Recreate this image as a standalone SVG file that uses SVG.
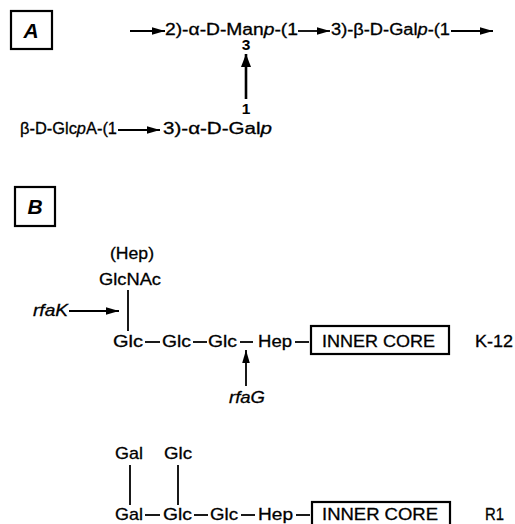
<svg xmlns="http://www.w3.org/2000/svg" width="515" height="524" viewBox="0 0 515 524">
<defs>
<marker id="ah" markerUnits="userSpaceOnUse" markerWidth="14" markerHeight="10" refX="13" refY="5" orient="auto">
<path d="M0,1.2 L13,5 L0,8.8 Z" fill="#000"/>
</marker>
<marker id="ahb" markerUnits="userSpaceOnUse" markerWidth="14" markerHeight="12" refX="13" refY="6" orient="auto">
<path d="M0,1 L13,6 L0,11 Z" fill="#000"/>
</marker>
</defs>
<style>
text{font-family:"Liberation Sans",Arial,sans-serif;font-size:16px;fill:#000;stroke:#000;stroke-width:0.3}
.lbl{font-size:21px;font-weight:bold;font-style:italic;stroke:none}
.b{font-size:17px}
.n{font-size:15.5px;font-weight:bold;stroke:none}
.i{font-style:italic}
.box{fill:none;stroke:#000;stroke-width:2.2}
.ln{stroke:#000;stroke-width:1.8;fill:none}
.arr{stroke:#000;stroke-width:1.8;fill:none;marker-end:url(#ah)}
.arrb{stroke:#000;stroke-width:2.6;fill:none;marker-end:url(#ahb)}
.m{text-anchor:middle}
</style>
<rect width="515" height="524" fill="#fff"/>

<g id="panelA">
<rect class="box" x="11" y="11" width="41" height="38"/>
<text class="lbl m" x="31" y="38">A</text>
</g>
<g id="a-man"><text x="165" y="35" textLength="133" lengthAdjust="spacingAndGlyphs">2)-α-D-Man<tspan class="i">p</tspan>-(1</text><text class="n m" x="246" y="50">3</text></g>
<g id="a-gal"><text x="331" y="35" textLength="119" lengthAdjust="spacingAndGlyphs">3)-β-D-Gal<tspan class="i">p</tspan>-(1</text></g>
<g id="a-glca"><text x="20" y="134" textLength="97" lengthAdjust="spacingAndGlyphs">β-D-Glc<tspan class="i">p</tspan>A-(1</text></g>
<g id="a-galp"><text class="n m" x="246" y="114">1</text><text x="163" y="134" textLength="109" lengthAdjust="spacingAndGlyphs">3)-α-D-Gal<tspan class="i">p</tspan></text></g>

<g id="panelB">
<rect class="box" x="15" y="187" width="40" height="39"/>
<text class="lbl m" x="35" y="214">B</text>
</g>
<g id="k-glcnac"><text class="b" x="110" y="259" textLength="44" lengthAdjust="spacingAndGlyphs">(Hep)</text><text class="b" x="99" y="285" textLength="62" lengthAdjust="spacingAndGlyphs">GlcNAc</text></g>
<g id="k-rfak"><text class="b i" x="33" y="316" textLength="35" lengthAdjust="spacingAndGlyphs">rfaK</text></g>
<g id="k-glc1"><text class="b" x="113" y="347" textLength="30" lengthAdjust="spacingAndGlyphs">Glc</text></g>
<g id="k-glc2"><text class="b" x="162" y="347" textLength="29" lengthAdjust="spacingAndGlyphs">Glc</text></g>
<g id="k-glc3"><text class="b" x="208" y="347" textLength="29" lengthAdjust="spacingAndGlyphs">Glc</text></g>
<g id="k-hep"><text class="b" x="258" y="347" textLength="34" lengthAdjust="spacingAndGlyphs">Hep</text></g>
<g id="k-core"><rect class="box" x="311" y="326" width="138" height="28"/><text class="b" x="322" y="347" textLength="113" lengthAdjust="spacingAndGlyphs">INNER CORE</text></g>
<g id="k-label"><text class="b" x="475" y="347" textLength="38" lengthAdjust="spacingAndGlyphs">K-12</text></g>
<g id="k-rfag"><text class="b i" x="229" y="403" textLength="36" lengthAdjust="spacingAndGlyphs">rfaG</text></g>

<g id="r-gal-top"><text class="b" x="115" y="459" textLength="28" lengthAdjust="spacingAndGlyphs">Gal</text></g>
<g id="r-glc-top"><text class="b" x="164" y="459" textLength="28" lengthAdjust="spacingAndGlyphs">Glc</text></g>
<g id="r-gal"><text class="b" x="115" y="520" textLength="28" lengthAdjust="spacingAndGlyphs">Gal</text></g>
<g id="r-glc1"><text class="b" x="163" y="520" textLength="29" lengthAdjust="spacingAndGlyphs">Glc</text></g>
<g id="r-glc2"><text class="b" x="210" y="520" textLength="28" lengthAdjust="spacingAndGlyphs">Glc</text></g>
<g id="r-hep"><text class="b" x="258" y="520" textLength="35" lengthAdjust="spacingAndGlyphs">Hep</text></g>
<g id="r-core"><rect class="box" x="312" y="502" width="138" height="30"/><text class="b" x="322" y="520" textLength="116" lengthAdjust="spacingAndGlyphs">INNER CORE</text></g>
<g id="r-label"><text class="b" x="485" y="520" textLength="19" lengthAdjust="spacingAndGlyphs">R1</text></g>

<g id="connectors">
<line class="arr" x1="130" y1="31" x2="165" y2="31"/>
<line class="arr" x1="298" y1="31" x2="330" y2="31"/>
<line class="arr" x1="451" y1="31" x2="493" y2="31"/>
<line class="arrb" x1="246" y1="99" x2="246" y2="54"/>
<line class="arr" x1="118" y1="130" x2="160" y2="130"/>
<line class="ln" x1="128" y1="290" x2="128" y2="331"/>
<line class="arr" x1="69" y1="311" x2="119" y2="311"/>
<line class="ln" x1="145" y1="342" x2="160" y2="342"/>
<line class="ln" x1="193" y1="342" x2="207" y2="342"/>
<line class="ln" x1="240" y1="342" x2="253" y2="342"/>
<line class="ln" x1="295" y1="342" x2="309" y2="342"/>
<line class="arr" x1="246" y1="386" x2="246" y2="350"/>
<line class="ln" x1="130" y1="465" x2="130" y2="505"/>
<line class="ln" x1="178" y1="465" x2="178" y2="505"/>
<line class="ln" x1="145" y1="515" x2="160" y2="515"/>
<line class="ln" x1="194" y1="515" x2="208" y2="515"/>
<line class="ln" x1="241" y1="515" x2="255" y2="515"/>
<line class="ln" x1="296" y1="515" x2="310" y2="515"/>
</g>
</svg>
